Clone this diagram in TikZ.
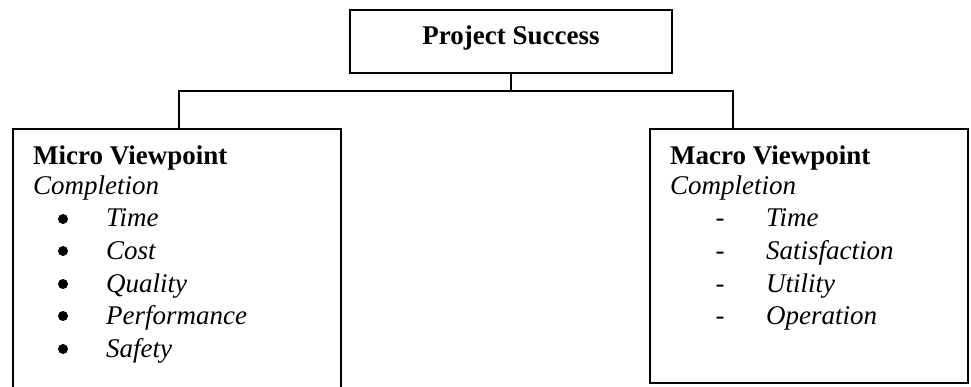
\documentclass[tikz,border=0pt]{standalone}
\usepackage{fontspec}
\setmainfont{Liberation Serif}
\begin{document}
\begin{tikzpicture}[x=1pt,y=-1pt,
  boxstyle/.style={draw=black,line width=2.2pt,rectangle,inner sep=0pt},
  txt/.style={anchor=base west,inner sep=0pt,font=\fontsize{27}{32}\selectfont},
  dot/.style={circle,fill=black,inner sep=0pt,minimum size=10pt},
  conn/.style={draw=black,line width=2.2pt}]
\useasboundingbox (0,0) rectangle (971,387);
\clip (0,0) rectangle (971,387);
\fill[white] (0,0) rectangle (971,387);
% boxes
\node[boxstyle,minimum width=322pt,minimum height=63pt] (top) at (511,41.5) {};
\node[boxstyle,minimum width=328pt,minimum height=280pt] (left) at (177,269) {};
\node[boxstyle,minimum width=318pt,minimum height=254pt] (right) at (809,256) {};
% connectors
\coordinate (jl) at (179,91);
\coordinate (jr) at (733,91);
\draw[conn] (top.south) -- (top.south |- jl);
\draw[conn] (jl |- left.north) -- (jl) -- (jr) -- (jr |- right.north);
% top text
\node[txt,anchor=base] (t0) at (511,45) {\bfseries Project Success};
% left text
\node[txt] (l0) at (33,165) {\bfseries Micro Viewpoint};
\node[txt] (l1) at (33,195) {\itshape Completion};
\node[dot] (lb1) at (63,219) {};
\node[dot] (lb2) at (63,251) {};
\node[dot] (lb3) at (63,284) {};
\node[dot] (lb4) at (63,316) {};
\node[dot] (lb5) at (63,349) {};
\node[txt] (li1) at (106,227) {\itshape Time};
\node[txt] (li2) at (106,259) {\itshape Cost};
\node[txt] (li3) at (106,292) {\itshape Quality};
\node[txt] (li4) at (106,324) {\itshape Performance};
\node[txt] (li5) at (106,357) {\itshape Safety};
% right text
\node[txt] (r0) at (670,165) {\bfseries Macro Viewpoint};
\node[txt] (r1) at (670,195) {\itshape Completion};
\node[txt,anchor=base] (rd1) at (720,227) {-};
\node[txt,anchor=base] (rd2) at (720,259) {-};
\node[txt,anchor=base] (rd3) at (720,292) {-};
\node[txt,anchor=base] (rd4) at (720,324) {-};
\node[txt] (ri1) at (766,227) {\itshape Time};
\node[txt] (ri2) at (766,259) {\itshape Satisfaction};
\node[txt] (ri3) at (766,292) {\itshape Utility};
\node[txt] (ri4) at (766,324) {\itshape Operation};
\end{tikzpicture}
\end{document}
